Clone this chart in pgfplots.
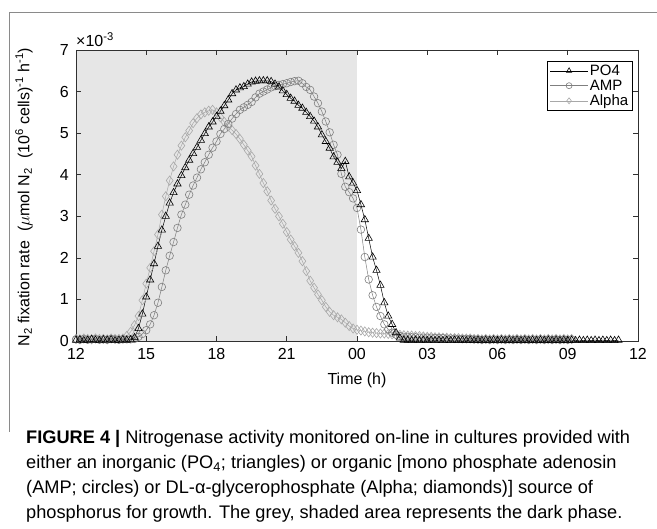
\documentclass[border=0pt]{standalone}
\usepackage{fontspec}
\setmainfont{Liberation Sans}
\usepackage{pgfplots}
\pgfplotsset{compat=1.18}
\usepackage{pgfplotstable}

\definecolor{shade}{HTML}{E6E6E6}
\definecolor{ampc}{HTML}{7F7F7F}
\definecolor{alc}{HTML}{A8A8A8}
\definecolor{axc}{HTML}{303030}
\definecolor{framec}{HTML}{8A8A8A}

\pgfplotstableread{
t po4 amp alpha
0 0.02 0.04 0.05
0.167 0.03 0.03 0.04
0.333 0.01 0.05 0.06
0.5 0.02 0.03 0.05
0.667 0.04 0.04 0.04
0.833 0.02 0.05 0.06
1 0.01 0.03 0.05
1.167 0.03 0.04 0.05
1.333 0.02 0.03 0.04
1.5 0.03 0.05 0.06
1.667 0.01 0.04 0.05
1.833 0.02 0.03 0.05
2 0.03 0.04 0.06
2.167 0.02 0.04 0.12
2.333 0.03 0.04 0.22
2.5 0.08 0.05 0.38
2.667 0.30 0.10 0.60
2.833 0.65 0.17 0.98
3 1.06 0.26 1.38
3.167 1.47 0.40 1.76
3.333 1.86 0.62 2.16
3.5 2.28 0.92 2.56
3.667 2.67 1.30 3.04
3.833 3.00 1.70 3.48
4 3.32 2.05 3.86
4.167 3.57 2.38 4.20
4.333 3.78 2.72 4.48
4.5 3.98 3.04 4.70
4.667 4.17 3.28 4.90
4.833 4.35 3.52 5.06
5 4.51 3.74 5.24
5.167 4.66 3.93 5.36
5.333 4.83 4.13 5.45
5.5 4.99 4.30 5.50
5.667 5.15 4.48 5.54
5.833 5.27 4.65 5.56
6 5.40 4.80 5.50
6.167 5.53 4.98 5.38
6.333 5.66 5.10 5.27
6.5 5.80 5.22 5.16
6.667 5.95 5.35 5.07
6.833 6.04 5.46 4.98
7 6.09 5.56 4.86
7.167 6.12 5.62 4.72
7.333 6.18 5.68 4.58
7.5 6.23 5.75 4.44
7.667 6.25 5.86 4.22
7.833 6.26 5.95 4.02
8 6.26 6.00 3.80
8.167 6.26 6.05 3.60
8.333 6.24 6.10 3.38
8.5 6.18 6.13 3.18
8.667 6.11 6.16 3.00
8.833 6.02 6.18 2.82
9 5.93 6.20 2.62
9.167 5.84 6.23 2.44
9.333 5.77 6.25 2.28
9.5 5.67 6.26 2.12
9.667 5.60 6.20 1.92
9.833 5.50 6.11 1.68
10 5.40 6.04 1.45
10.167 5.29 5.88 1.28
10.333 5.15 5.72 1.12
10.5 4.96 5.52 0.98
10.667 4.80 5.28 0.82
10.833 4.64 5.02 0.70
11 4.43 4.72 0.62
11.167 4.30 4.48 0.57
11.333 4.15 4.02 0.52
11.5 4.32 3.71 0.44
11.667 3.95 3.58 0.36
11.833 3.80 3.43 0.30
12 3.62 3.20 0.27
12.167 3.28 2.68 0.25
12.333 2.92 2.02 0.23
12.5 2.47 1.48 0.21
12.667 2.02 1.10 0.20
12.833 1.70 0.82 0.19
13 1.34 0.60 0.18
13.167 0.92 0.40 0.18
13.333 0.60 0.28 0.17
13.5 0.40 0.20 0.16
13.667 0.20 0.15 0.15
13.833 0.07 0.12 0.15
14 0.02 0.10 0.14
14.167 0.02 0.10 0.13
14.333 0.01 0.09 0.13
14.5 0.02 0.09 0.12
14.667 0.01 0.08 0.12
14.833 0.02 0.08 0.11
15 0.01 0.08 0.10
15.167 0.02 0.08 0.10
15.333 0.01 0.07 0.09
15.5 0.02 0.07 0.09
15.667 0.01 0.07 0.08
15.833 0.02 0.06 0.08
16 0.01 0.06 0.07
16.167 0.02 0.06 0.07
16.333 0.01 0.05 0.07
16.5 0.02 0.05 0.06
16.667 0.01 0.05 0.06
16.833 0.02 0.05 0.06
17 0.01 0.04 0.05
17.167 0.02 0.04 0.05
17.333 0.01 0.03 0.04
17.5 0.02 0.04 0.05
17.667 0.01 0.03 0.04
17.833 0.02 0.04 0.05
18 0.01 0.03 0.04
18.167 0.02 0.04 0.05
18.333 0.01 0.03 0.04
18.5 0.02 0.04 0.05
18.667 0.01 0.03 0.04
18.833 0.02 0.04 0.05
19 0.01 0.03 0.04
19.167 0.02 0.04 0.05
19.333 0.01 0.03 0.04
19.5 0.02 0.04 0.05
19.667 0.01 0.03 0.04
19.833 0.02 0.04 0.05
20 0.01 0.03 0.04
20.167 0.02 0.04 0.05
20.333 0.01 0.03 0.04
20.5 0.02 0.04 0.05
20.667 0.01 0.03 0.04
20.833 0.02 0.04 0.05
21 0.01 0.03 0.04
21.167 0.02 0.04 0.05
21.333 0.01 nan nan
21.5 0.02 nan nan
21.667 0.01 nan nan
21.833 0.02 nan nan
22 0.01 nan nan
22.167 0.02 nan nan
22.333 0.01 nan nan
22.5 0.02 nan nan
22.667 0.01 nan nan
22.833 0.02 nan nan
23 0.01 nan nan
23.167 0.02 nan nan
}\datatable

\pgfplotsset{
  po4st/.style={black, line width=0.5pt, mark=triangle, mark size=4.2pt, mark options={solid, line width=0.6pt, fill=none}},
  ampst/.style={ampc, line width=0.5pt, mark=o, mark size=3.8pt, mark options={solid, line width=0.6pt, fill=none}},
  alst/.style={alc, line width=0.5pt, mark=diamond, mark size=4.6pt, mark options={solid, line width=0.6pt, fill=none}},
}

\begin{document}
\begin{tikzpicture}[x=1pt,y=1pt]
\path[use as bounding box] (0,0) rectangle (657,529);
\draw[framec, line width=0.8pt] (9,529-432) -- (9,529-12) -- (657,529-12);

\begin{axis}[
  at={(76pt,188pt)}, anchor=south west, scale only axis,
  width=562pt, height=291pt,
  xmin=0, xmax=24, ymin=0, ymax=7,
  xtick={0,3,...,24}, xticklabels={12,15,18,21,00,03,06,09,12},
  ytick={0,1,...,7},
  tick align=inside, major tick length=5pt,
  axis line style={axc, line width=0.6pt},
  tick style={axc, line width=0.6pt},
  ticklabel style={font=\fontsize{16}{18}\selectfont, inner sep=1pt},
  xticklabel style={yshift=-6pt},
  yticklabel style={xshift=-6pt},
  /pgf/number format/assume math mode=true,
  xlabel={Time (h)},
  xlabel style={font=\fontsize{16}{18}\selectfont, yshift=-9pt},
  axis on top,
  legend style={at={(0.991,0.962)}, anchor=north east, draw=black, line width=0.5pt,
    font=\fontsize{15}{16}\selectfont, fill=white, inner xsep=3pt, inner ysep=2pt,
    row sep=0pt, nodes={inner sep=1.5pt}},
  legend cell align=left,
  legend image code/.code={\draw[mark repeat=2,mark phase=2, mark size=3pt] plot coordinates {(0pt,0pt) (19pt,0pt) (38pt,0pt)};},
]
\addplot[fill=shade, draw=none, forget plot] coordinates {(0,7) (12,7)} \closedcycle;
\addlegendimage{po4st}
\addlegendimage{ampst}
\addlegendimage{alst}
\addplot[alst, forget plot] table[x=t, y=alpha] {\datatable};
\addplot[ampst, forget plot] table[x=t, y=amp] {\datatable};
\addplot[po4st, forget plot] table[x=t, y=po4] {\datatable};
\legend{PO4, AMP, Alpha}
\end{axis}

\node[anchor=west, font=\fontsize{16}{18}\selectfont, inner sep=0pt] at (76,529-40) {×10\textsuperscript{-3}};
\node[rotate=90, font=\fontsize{16}{18}\selectfont, inner sep=0pt] at (24,529-197)
  {N\textsubscript{2} fixation rate\ \ ($\mu$mol N\textsubscript{2}\ \ (10\textsuperscript{6} cells)\textsuperscript{-1} h\textsuperscript{-1})};

\begin{scope}[every node/.style={anchor=base west, inner sep=0pt, font=\fontsize{18.2}{21}\selectfont}]
\node at (26,529-444) {\textbf{FIGURE 4} \textbf{|} Nitrogenase activity monitored on-line in cultures provided with};
\node at (26,529-469) {either an inorganic (PO\textsubscript{4}; triangles) or organic [mono phosphate adenosin};
\node at (26,529-494) {(AMP; circles) or DL-α-glycerophosphate (Alpha; diamonds)] source of};
\node at (26,529-519) {phosphorus for growth. The grey, shaded area represents the dark phase.};
\end{scope}
\end{tikzpicture}
\end{document}
